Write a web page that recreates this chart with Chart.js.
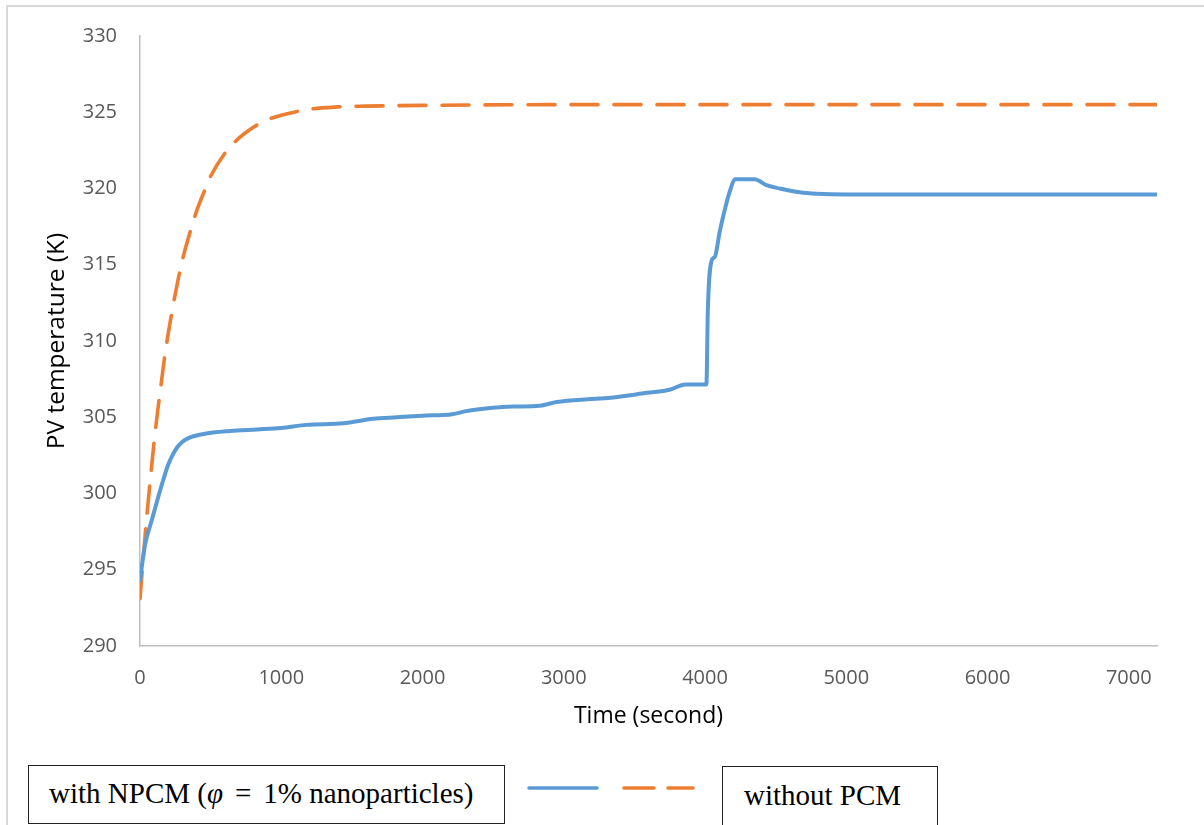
<!DOCTYPE html>
<html>
<head>
<meta charset="utf-8">
<script src="https://cdn.jsdelivr.net/npm/chart.js@4"></script>
<style>
  body { margin: 0; background: #fff; }
  #wrap { position: relative; width: 1204px; height: 825px; overflow: hidden; }
  #frame { position: absolute; left: 6px; top: 5px; width: 1210px; height: 840px;
           border-top: 2px solid #d9d9d9; border-left: 2px solid #d9d9d9; }
  .box { position: absolute; border: 1px solid #222; background: #fff;
         font-family: "Liberation Serif", "Times New Roman", serif; font-size: 29px; color: #000;
         box-sizing: border-box; white-space: nowrap; }
  #box1 { left: 28px; top: 765px; width: 477px; height: 59px; padding: 11px 0 0 20px; }
  #box2 { left: 722px; top: 766px; width: 216px; height: 70px; padding: 12px 0 0 21px; }
  .phi { font-style: italic; margin-right: 12px; }
  .eq { margin-right: 12px; }
</style>
</head>
<body>
<div id="wrap">
  <div id="frame"></div>
  <canvas id="chart" width="1204" height="825"></canvas>
  <div class="box" id="box1">with NPCM (<span class="phi">φ</span><span class="eq">=</span>1% nanoparticles)</div>
  <div class="box" id="box2">without PCM</div>
</div>
<script>
// === DADOS === //
const time_npcm = [0, 10, 35, 85, 130, 165, 200, 235, 265, 295, 335, 450, 640, 830, 1000, 1180, 1440, 1650, 1820, 2000, 2210, 2310, 2480, 2640, 2830, 2950, 3200, 3350, 3590, 3750, 3860, 4010, 4020, 4048, 4069, 4105, 4140, 4175, 4215, 4350, 4440, 4530, 4670, 4790, 5000, 6000, 7200];
const temp_npcm = [294.2, 295.0, 296.6, 298.3, 299.8, 300.9, 301.9, 302.6, 303.05, 303.35, 303.6, 303.9, 304.1, 304.2, 304.3, 304.5, 304.6, 304.9, 305.0, 305.1, 305.2, 305.4, 305.6, 305.7, 305.75, 306.0, 306.2, 306.3, 306.6, 306.8, 307.15, 307.15, 312.0, 315.3, 315.5, 317.2, 318.6, 319.8, 320.6, 320.6, 320.2, 320.0, 319.75, 319.65, 319.6, 319.6, 319.6];

const time_no_pcm = [0, 25, 50, 75, 100, 125, 150, 175, 200, 250, 300, 350, 400, 450, 500, 600, 700, 800, 900, 1000, 1200, 1400, 1600, 2000, 3000, 4000, 5000, 6000, 7200];
const temp_no_pcm = [293.1, 296.0, 298.7, 301.1, 303.4, 305.4, 307.2, 309.0, 310.5, 313.1, 315.3, 317.0, 318.5, 319.7, 320.8, 322.3, 323.3, 324.0, 324.5, 324.8, 325.2, 325.35, 325.4, 325.45, 325.5, 325.5, 325.5, 325.5, 325.5];

const x_ticks = [0, 1000, 2000, 3000, 4000, 5000, 6000, 7000];
const y_ticks = [290, 295, 300, 305, 310, 315, 320, 325, 330];

const blue = '#5b9bd5';
const orange = '#ed7d31';

// amostras de linha da legenda (entre as caixas)
const legendSamples = {
  id: 'legendSamples',
  afterDraw(chart) {
    const ctx = chart.ctx;
    ctx.save();
    ctx.lineWidth = 3.5;
    ctx.lineCap = 'round';
    ctx.strokeStyle = blue;
    ctx.beginPath(); ctx.moveTo(529, 788); ctx.lineTo(597, 788); ctx.stroke();
    ctx.strokeStyle = orange;
    ctx.beginPath(); ctx.moveTo(624, 788); ctx.lineTo(654, 788); ctx.stroke();
    ctx.beginPath(); ctx.moveTo(668, 788); ctx.lineTo(693, 788); ctx.stroke();
    ctx.restore();
  }
};

const tick_font = { family: 'Open Sans', size: 20 };

new Chart(document.getElementById('chart'), {
  type: 'line',
  data: {
    datasets: [{
      data: time_npcm.map((t, i) => ({ x: t, y: temp_npcm[i] })),
      borderColor: blue,
      borderWidth: 4,
      pointRadius: 0,
      cubicInterpolationMode: 'monotone'
    }, {
      data: time_no_pcm.map((t, i) => ({ x: t, y: temp_no_pcm[i] })),
      borderColor: orange,
      borderWidth: 3.6,
      borderDash: [27, 16],
      borderCapStyle: 'round',
      pointRadius: 0,
      cubicInterpolationMode: 'monotone'
    }]
  },
  options: {
    responsive: false,
    animation: false,
    devicePixelRatio: 1,
    layout: { padding: { left: 38, top: 36, right: 47, bottom: 91 } },
    plugins: {
      legend: { display: false },
      tooltip: { enabled: false }
    },
    scales: {
      x: {
        type: 'linear',
        min: 0,
        max: 7200,
        afterBuildTicks: s => { s.ticks = x_ticks.map(v => ({ value: v })); },
        afterFit: s => { s.height = 88; },
        grid: { display: false, drawTicks: false },
        border: { color: '#bfbfbf', width: 1.5 },
        ticks: { color: '#595959', font: tick_font, padding: 20, maxRotation: 0, callback: v => String(v) },
        title: { display: true, text: 'Time (second)', color: '#000', font: { family: 'Open Sans', size: 23 } }
      },
      y: {
        min: 290,
        max: 330,
        afterBuildTicks: s => { s.ticks = y_ticks.map(v => ({ value: v })); },
        afterFit: s => { s.width = 102; },
        grid: { display: false, drawTicks: false },
        border: { color: '#bfbfbf', width: 1.5 },
        ticks: { color: '#595959', font: tick_font, padding: 23, callback: v => String(v) },
        title: { display: true, text: 'PV temperature (K)', color: '#000', font: { family: 'Open Sans', size: 24.5 } }
      }
    }
  },
  plugins: [legendSamples]
});
</script>
</body>
</html>
